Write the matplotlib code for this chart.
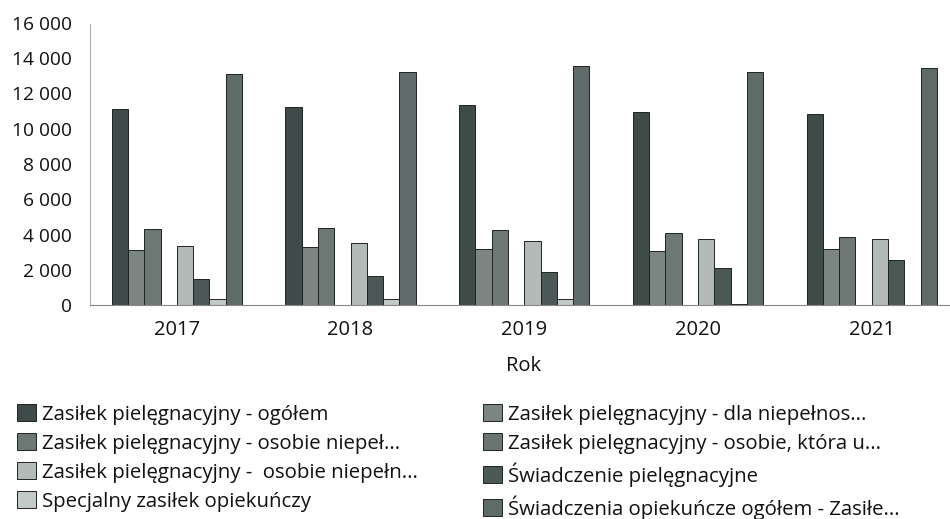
import matplotlib
matplotlib.use('Agg')
import matplotlib.pyplot as plt
import numpy as np

plt.rcParams['font.family'] = ['Open Sans', 'DejaVu Sans']

years = ['2017', '2018', '2019', '2020', '2021']

series_names = [
    'Zasiłek pielęgnacyjny - ogółem',
    'Zasiłek pielęgnacyjny - dla niepełnos...',
    'Zasiłek pielęgnacyjny - osobie niepeł...',
    'Zasiłek pielęgnacyjny - osobie, która u...',
    'Zasiłek pielęgnacyjny -  osobie niepełn...',
    'Świadczenie pielęgnacyjne',
    'Specjalny zasiłek opiekuńczy',
    'Świadczenia opiekuńcze ogółem - Zasiłe...',
]

ogolem = [11100, 11220, 11350, 10950, 10820]
dla_niepelnos = [3120, 3270, 3180, 3080, 3200]
osobie_niepel = [4310, 4350, 4270, 4070, 3860]
osobie_ktora = [0, 0, 0, 0, 0]
osobie_niepeln = [3350, 3500, 3610, 3750, 3750]
swiadczenie_piel = [1500, 1630, 1870, 2100, 2550]
specjalny = [320, 340, 360, 60, 0]
swiadczenia_ogolem = [13090, 13200, 13540, 13240, 13470]

values = [ogolem, dla_niepelnos, osobie_niepel, osobie_ktora,
          osobie_niepeln, swiadczenie_piel, specjalny, swiadczenia_ogolem]

colors = ['#3e4b48', '#7c8582', '#6d7874', '#6a7571',
          '#b3bab8', '#4b5855', '#c3c9c7', '#5f6b68']

fig = plt.figure(figsize=(9.5, 5.19), dpi=100)
ax = fig.add_axes([90 / 950, 1 - 305 / 519, 868.5 / 950, 282 / 519])

x = np.arange(len(years))
bar_w = 0.75 / 8
handles = []
for i, (vals, col) in enumerate(zip(values, colors)):
    pos = x - 0.375 + bar_w * (i + 0.5)
    b = ax.bar(pos, vals, bar_w, color=col, edgecolor='#1e2422', linewidth=0.7,
               label=series_names[i])
    handles.append(b)

ax.set_xlim(-0.5, len(years) - 0.5)
ax.set_ylim(0, 16000)
ax.set_yticks(np.arange(0, 16001, 2000))
ax.set_yticklabels([f'{v:,}'.replace(',', ' ') for v in range(0, 16001, 2000)])
ax.set_xticks(x)
ax.set_xticklabels(years)
ax.tick_params(axis='both', length=0, colors='#111111')
ax.tick_params(axis='y', pad=13, labelsize=13.8)
ax.tick_params(axis='x', pad=11, labelsize=14.5)

for s in ['top', 'right']:
    ax.spines[s].set_visible(False)
ax.spines['left'].set_color('#aaaaaa')
ax.spines['left'].set_linewidth(0.8)
ax.spines['left'].set_linestyle((0, (1, 1)))
ax.spines['bottom'].set_color('#888888')
ax.spines['bottom'].set_linewidth(0.8)

fig.text(524 / 950, 1 - 366 / 519, 'Rok', ha='center', va='center',
         fontsize=14.5, color='#111111')

leg_kw = dict(frameon=False, fontsize=14.7, handlelength=0.93, handleheight=0.9,
              handletextpad=0.3, labelspacing=0.42, borderpad=0, borderaxespad=0,
              labelcolor='#111111')
for idxs, xpos in [([0, 2, 4, 6], 17), ([1, 3, 5, 7], 483)]:
    fig.legend([handles[k] for k in idxs], [series_names[k] for k in idxs],
               loc='upper left', bbox_to_anchor=(xpos / 950, 1 - 404 / 519), **leg_kw)

fig.savefig('out.png', dpi=100)
